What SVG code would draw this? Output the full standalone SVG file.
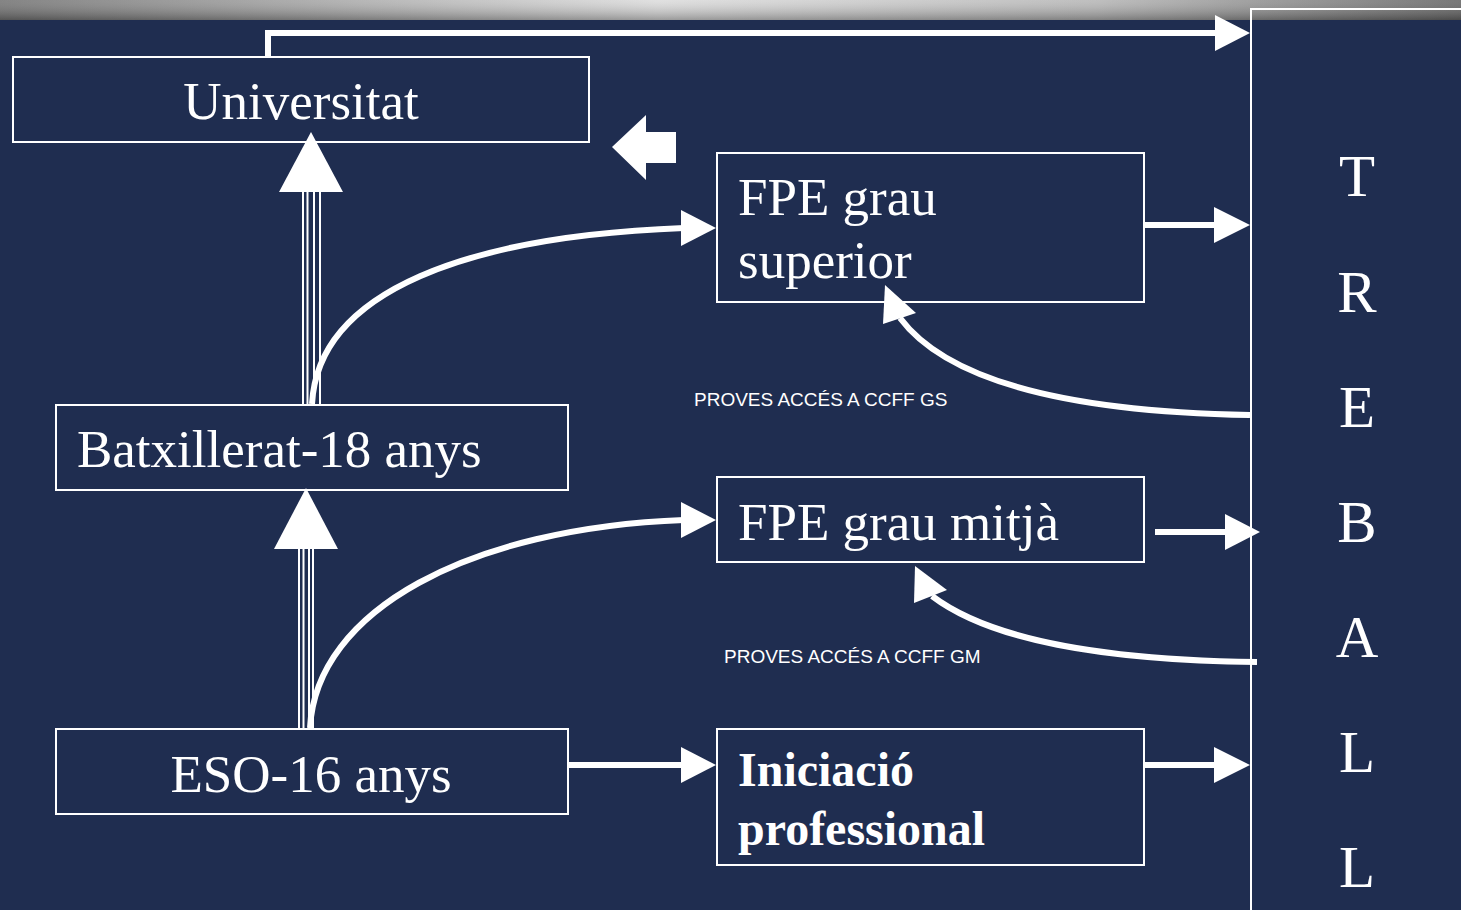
<svg xmlns="http://www.w3.org/2000/svg" width="1461" height="910" viewBox="0 0 1461 910">
<defs>
<linearGradient id="band" x1="0" y1="0" x2="1" y2="0">
<stop offset="0" stop-color="#777777"/>
<stop offset="0.45" stop-color="#dddddd"/>
<stop offset="0.75" stop-color="#b8b8b8"/>
<stop offset="1" stop-color="#6a6a6a"/>
</linearGradient>
<linearGradient id="bandv" x1="0" y1="0" x2="0" y2="1">
<stop offset="0" stop-color="#ffffff" stop-opacity="0.1"/>
<stop offset="1" stop-color="#000000" stop-opacity="0.3"/>
</linearGradient>
<style>
.box{fill:none;stroke:#ffffff;stroke-width:2}
.big{font-family:"Liberation Serif","Times New Roman",serif;font-size:53px;fill:#ffffff}
.bold{font-family:"Liberation Serif","Times New Roman",serif;font-size:48px;font-weight:bold;fill:#ffffff}
.small{font-family:"Liberation Sans",Arial,sans-serif;font-size:19px;fill:#ffffff}
.tl{font-family:"Liberation Serif","Times New Roman",serif;font-size:59px;fill:#ffffff;text-anchor:middle}
.ln{fill:none;stroke:#ffffff;stroke-width:6}
.th{fill:none;stroke:#ffffff;stroke-width:2}
.hd{fill:#ffffff}
</style>
</defs>
<rect x="0" y="0" width="1461" height="910" fill="#1f2d50"/>
<rect x="0" y="0" width="1461" height="20" fill="url(#band)"/>
<rect x="0" y="0" width="1461" height="20" fill="url(#bandv)"/>

<g id="connectors">
<path class="ln" d="M268,57 V33 H1216"/>
<polygon class="hd" points="1215,15 1250,33 1215,51"/>
<line class="th" x1="303" y1="404" x2="303" y2="190"/>
<line class="th" x1="307.5" y1="404" x2="307.5" y2="190"/>
<line class="th" x1="314" y1="404" x2="314" y2="190"/>
<line class="th" x1="320" y1="404" x2="320" y2="190"/>
<polygon class="hd" points="311,132 343,192 279,192"/>
<line class="th" x1="299" y1="728" x2="299" y2="546"/>
<line class="th" x1="303.5" y1="728" x2="303.5" y2="546"/>
<line class="th" x1="309" y1="728" x2="309" y2="546"/>
<line class="th" x1="313" y1="728" x2="313" y2="546"/>
<polygon class="hd" points="306,488 338,549 274,549"/>
<path class="ln" d="M312,404 C318,290 470,236 684,228"/>
<polygon class="hd" points="681,210 716,228 681,246"/>
<path class="ln" d="M310,728 C316,610 470,528 684,520"/>
<polygon class="hd" points="681,502 716,520 681,538"/>
<path class="ln" d="M568,765 H684"/>
<polygon class="hd" points="681,747 716,765 681,783"/>
<path class="ln" d="M1144,225 H1216"/>
<polygon class="hd" points="1214,207 1250,225 1214,243"/>
<path class="ln" d="M1155,532 H1226"/>
<polygon class="hd" points="1225,514 1260,532 1225,550"/>
<path class="ln" d="M1144,765 H1216"/>
<polygon class="hd" points="1214,747 1250,765 1214,783"/>
<path class="ln" d="M1250,415 C1080,412 950,385 900,318"/>
<polygon class="hd" points="885,285 916,313 883,324"/>
<path class="ln" d="M1257,662 C1100,660 990,640 932,596"/>
<polygon class="hd" points="915,566 947,590 914,603"/>
<polygon class="hd" points="612,147 646,115 646,132 676,132 676,163 646,163 646,180"/>
</g>

<g id="universitat">
<rect class="box" x="13" y="57" width="576" height="85"/>
<text class="big" x="301" y="119" text-anchor="middle">Universitat</text>
</g>
<g id="fpe-gs">
<rect class="box" x="717" y="153" width="427" height="149"/>
<text class="big" x="738" y="215">FPE grau</text>
<text class="big" x="738" y="278">superior</text>
</g>
<g id="batxillerat">
<rect class="box" x="56" y="405" width="512" height="85"/>
<text class="big" x="77" y="467">Batxillerat-18 anys</text>
</g>
<g id="fpe-gm">
<rect class="box" x="717" y="477" width="427" height="85"/>
<text class="big" x="738" y="540">FPE grau mitjà</text>
</g>
<g id="eso">
<rect class="box" x="56" y="729" width="512" height="85"/>
<text class="big" x="311" y="792" text-anchor="middle">ESO-16 anys</text>
</g>
<g id="iniciacio">
<rect class="box" x="717" y="729" width="427" height="136"/>
<text class="bold" x="738" y="786">Iniciació</text>
<text class="bold" x="738" y="845">professional</text>
</g>
<g id="labels">
<text class="small" x="694" y="406">PROVES ACCÉS A CCFF GS</text>
<text class="small" x="724" y="663">PROVES ACCÉS A CCFF GM</text>
</g>
<g id="treball">
<rect class="box" x="1251" y="9" width="230" height="920"/>
<text class="tl" x="1357" y="196">T</text>
<text class="tl" x="1357" y="312">R</text>
<text class="tl" x="1357" y="427">E</text>
<text class="tl" x="1357" y="542">B</text>
<text class="tl" x="1357" y="657">A</text>
<text class="tl" x="1357" y="772">L</text>
<text class="tl" x="1357" y="887">L</text>
</g>
</svg>
